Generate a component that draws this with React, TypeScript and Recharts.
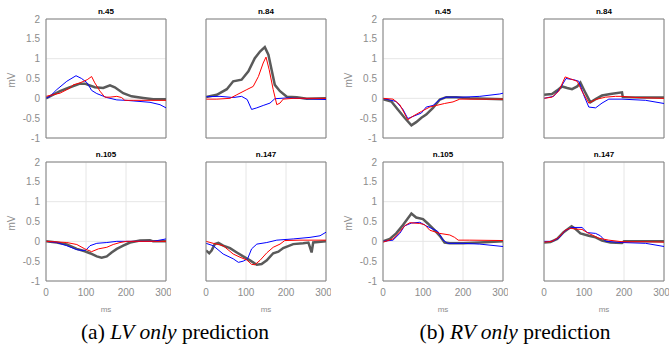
import { CartesianGrid, Line, LineChart, ReferenceLine, XAxis, YAxis } from 'recharts';

type Pt = [number, number];

const msTicks = [0, 100, 200, 300];
const mvTicks = [-1, -0.5, 0, 0.5, 1, 1.5, 2];

// (a) LV only — n.45
const lv45Gray: Pt[] = [[0, 0], [35, 0.18], [60, 0.28], [85, 0.37], [97, 0.37], [122, 0.28], [143, 0.26], [160, 0.33], [172, 0.28], [193, 0.13], [214, 0.05], [243, 0.01], [268, -0.02], [300, -0.02]];
const lv45Blue: Pt[] = [[0, 0], [10, 0.05], [27, 0.22], [52, 0.43], [75, 0.57], [89, 0.5], [103, 0.39], [114, 0.2], [127, 0.12], [152, 0.02], [177, -0.04], [200, -0.05], [260, -0.1], [285, -0.16], [300, -0.24]];
const lv45Red: Pt[] = [[0, 0.05], [35, 0.13], [60, 0.26], [68, 0.34], [85, 0.39], [103, 0.47], [114, 0.55], [122, 0.39], [135, 0.18], [147, 0.03], [160, 0.03], [177, 0.05], [189, 0.02], [197, -0.05], [218, -0.05], [300, -0.05]];

// (a) LV only — n.84
const lv84Gray: Pt[] = [[0, 0.03], [27, 0.09], [52, 0.23], [68, 0.43], [89, 0.47], [106, 0.68], [122, 1.01], [135, 1.18], [147, 1.29], [156, 1.1], [164, 0.72], [172, 0.34], [185, 0.18], [202, 0.04], [227, 0.03], [252, -0.01], [300, 0]];
const lv84Blue: Pt[] = [[0, 0.04], [35, 0.05], [68, 0.02], [89, 0.05], [103, -0.03], [114, -0.28], [127, -0.24], [143, -0.18], [160, -0.12], [172, -0.01], [202, 0.01], [300, -0.03]];
const lv84Red: Pt[] = [[0, -0.02], [27, -0.02], [60, 0], [77, 0.09], [102, 0.22], [118, 0.3], [131, 0.55], [143, 0.89], [150, 1.04], [158, 0.72], [168, 0.22], [177, -0.16], [185, -0.12], [193, -0.02], [218, 0], [300, 0]];

// (a) LV only — n.105
const lv105Gray: Pt[] = [[0, 0], [27, -0.03], [52, -0.08], [77, -0.19], [97, -0.25], [110, -0.3], [127, -0.38], [139, -0.41], [152, -0.38], [164, -0.28], [177, -0.19], [193, -0.11], [210, -0.03], [235, 0.02], [260, 0.03], [268, 0], [300, 0]];
const lv105Blue: Pt[] = [[0, 0], [27, -0.03], [52, -0.11], [77, -0.21], [93, -0.23], [100, -0.22], [110, -0.11], [127, -0.05], [152, -0.03], [177, 0], [235, 0], [268, 0], [300, 0.06]];
const lv105Red: Pt[] = [[0, 0], [52, -0.03], [77, -0.08], [97, -0.19], [114, -0.26], [131, -0.19], [152, -0.15], [168, -0.08], [185, -0.03], [202, 0], [300, 0]];

// (a) LV only — n.147
const lv147Gray: Pt[] = [[0, -0.23], [8, -0.3], [14, -0.23], [22, -0.07], [31, -0.04], [43, -0.11], [60, -0.17], [77, -0.28], [93, -0.38], [110, -0.48], [127, -0.59], [139, -0.57], [152, -0.48], [168, -0.3], [181, -0.26], [193, -0.17], [218, -0.07], [243, -0.05], [256, -0.03], [260, -0.15], [264, -0.28], [268, -0.03], [300, 0]];
const lv147Blue: Pt[] = [[0, -0.05], [18, -0.11], [43, -0.32], [68, -0.44], [81, -0.53], [93, -0.5], [104, -0.44], [114, -0.19], [127, -0.07], [152, -0.03], [177, 0.03], [218, 0.06], [260, 0.1], [285, 0.14], [300, 0.23]];
const lv147Red: Pt[] = [[0, 0], [18, -0.05], [43, -0.11], [68, -0.32], [85, -0.4], [102, -0.47], [114, -0.58], [122, -0.59], [135, -0.48], [152, -0.29], [168, -0.15], [185, -0.07], [197, 0.02], [235, 0.03], [300, 0.03]];

// (b) RV only — n.45
const rv45Gray: Pt[] = [[0, -0.02], [21, -0.08], [37, -0.28], [54, -0.49], [71, -0.68], [83, -0.6], [96, -0.49], [108, -0.41], [125, -0.24], [142, -0.03], [158, 0.03], [183, 0.03], [217, 0], [300, -0.02]];
const rv45Blue: Pt[] = [[0, 0], [33, -0.08], [50, -0.28], [62, -0.51], [79, -0.44], [96, -0.37], [108, -0.22], [125, -0.18], [142, -0.03], [158, 0.03], [200, 0.03], [242, 0.05], [292, 0.11], [300, 0.13]];
const rv45Red: Pt[] = [[0, 0], [25, -0.02], [42, -0.16], [62, -0.54], [75, -0.45], [96, -0.33], [117, -0.22], [133, -0.18], [154, -0.13], [175, -0.09], [192, -0.02], [242, -0.02], [300, -0.02]];

// (b) RV only — n.84
const rv84Gray: Pt[] = [[0, 0.09], [20, 0.11], [33, 0.2], [45, 0.3], [58, 0.26], [70, 0.23], [83, 0.3], [91, 0.4], [104, 0.13], [116, -0.1], [129, -0.02], [145, 0.07], [166, 0.11], [195, 0.15], [197, 0.03], [250, 0.02], [300, 0.02]];
const rv84Blue: Pt[] = [[0, 0], [24, 0.05], [41, 0.26], [55, 0.5], [74, 0.47], [87, 0.43], [99, 0.09], [112, -0.22], [129, -0.24], [145, -0.12], [162, -0.02], [195, -0.02], [254, -0.05], [300, -0.13]];
const rv84Red: Pt[] = [[0, 0], [20, 0.03], [37, 0.18], [53, 0.54], [66, 0.49], [83, 0.43], [95, 0.18], [112, -0.12], [129, -0.03], [154, 0.03], [179, 0.05], [195, 0.05], [229, 0.02], [300, 0]];

// (b) RV only — n.105
const rv105Gray: Pt[] = [[0, 0], [17, 0.06], [33, 0.2], [50, 0.41], [71, 0.7], [83, 0.6], [100, 0.56], [112, 0.45], [129, 0.28], [142, 0.14], [154, -0.03], [167, -0.05], [200, -0.05], [242, -0.03], [300, 0]];
const rv105Blue: Pt[] = [[0, 0], [25, 0.03], [42, 0.2], [54, 0.39], [71, 0.46], [92, 0.48], [108, 0.39], [125, 0.31], [137, 0.25], [150, 0.03], [162, -0.05], [200, -0.05], [242, -0.07], [300, -0.13]];
const rv105Red: Pt[] = [[0, -0.02], [25, 0.06], [42, 0.24], [54, 0.39], [67, 0.47], [92, 0.45], [104, 0.42], [117, 0.28], [142, 0.2], [167, 0.16], [179, 0.1], [188, 0.03], [217, 0.03], [300, 0.02]];

// (b) RV only — n.147
const rv147Gray: Pt[] = [[0, -0.03], [16, -0.02], [33, 0.06], [49, 0.23], [69, 0.38], [79, 0.31], [91, 0.2], [112, 0.14], [129, 0.1], [145, 0.02], [166, -0.03], [195, -0.04], [200, 0], [300, 0]];
const rv147Blue: Pt[] = [[0, 0], [20, 0], [37, 0.08], [53, 0.27], [70, 0.35], [95, 0.35], [108, 0.22], [129, 0.2], [141, 0.14], [154, 0], [195, -0.03], [254, -0.05], [300, -0.13]];
const rv147Red: Pt[] = [[0, -0.02], [20, 0], [37, 0.1], [53, 0.28], [66, 0.33], [79, 0.31], [95, 0.3], [112, 0.2], [137, 0.08], [162, 0.03], [195, -0.01], [254, -0.01], [300, -0.02]];

const rows = (pts: Pt[]) => pts.map(([t, v]) => ({ t, v }));

const AXIS = '#808080';
const LABEL = '#8c8c8c';
const FONT = '"Liberation Sans", Arial, sans-serif';

interface PanelProps {
  left: number;
  top: number;
  title: string;
  gray: Pt[];
  blue: Pt[];
  red: Pt[];
  yLabels: boolean;
  xLabels: boolean;
}

const Panel = ({ left, top, title, gray, blue, red, yLabels, xLabels }: PanelProps) => (
  <div style={{ position: 'absolute', left: left - 40, top: top - 19, width: 165, height: 163 }}>
    <div
      style={{
        position: 'absolute', left: 40, width: 120, top: 7, textAlign: 'center',
        fontFamily: FONT, fontWeight: 'bold', fontSize: 8, lineHeight: '10px', color: '#000',
      }}
    >
      {title}
    </div>
    {yLabels && (
      <div
        style={{
          position: 'absolute', left: -4, top: 74, width: 20, textAlign: 'center',
          transform: 'rotate(-90deg)', fontFamily: FONT, fontSize: 10, lineHeight: '12px', color: LABEL,
        }}
      >
        mV
      </div>
    )}
    {xLabels && (
      <div
        style={{
          position: 'absolute', left: 40, width: 120, top: 162, textAlign: 'center',
          fontFamily: FONT, fontSize: 8, lineHeight: '10px', color: LABEL,
        }}
      >
        ms
      </div>
    )}
    <LineChart width={165} height={163} margin={{ top: 19, right: 5, bottom: 0, left: 0 }}>
      <CartesianGrid stroke="#e6e6e6" />
      <XAxis
        type="number"
        dataKey="t"
        domain={[0, 300]}
        ticks={msTicks}
        allowDataOverflow
        height={25}
        tickLine={false}
        axisLine={{ stroke: AXIS }}
        tick={xLabels ? { fill: LABEL, fontSize: 10, fontFamily: FONT } : false}
      />
      <YAxis
        type="number"
        domain={[-1, 2]}
        ticks={mvTicks}
        allowDataOverflow
        width={40}
        tickLine={false}
        tickSize={4}
        tickMargin={2}
        axisLine={{ stroke: AXIS }}
        tick={yLabels ? { fill: LABEL, fontSize: 10, fontFamily: FONT } : false}
      />
      <ReferenceLine y={2} stroke={AXIS} />
      <ReferenceLine x={300} stroke={AXIS} />
      <Line data={rows(gray)} dataKey="v" stroke="#5a5a5a" strokeWidth={2.5} dot={false} isAnimationActive={false} />
      <Line data={rows(blue)} dataKey="v" stroke="#0000ff" strokeWidth={1} dot={false} isAnimationActive={false} />
      <Line data={rows(red)} dataKey="v" stroke="#ff0000" strokeWidth={1} dot={false} isAnimationActive={false} />
    </LineChart>
  </div>
);

const captionStyle = {
  position: 'absolute' as const,
  top: 319,
  width: 300,
  textAlign: 'center' as const,
  fontFamily: '"Liberation Serif", "Times New Roman", serif',
  fontSize: 21.5,
  lineHeight: '26px',
  color: '#000',
};

export default function App() {
  return (
    <div style={{ position: 'absolute', left: 0, top: 0, width: 669, height: 347, background: '#fff' }}>
      <Panel left={46} top={19} title="n.45" gray={lv45Gray} blue={lv45Blue} red={lv45Red} yLabels xLabels={false} />
      <Panel left={206} top={19} title="n.84" gray={lv84Gray} blue={lv84Blue} red={lv84Red} yLabels={false} xLabels={false} />
      <Panel left={383} top={19} title="n.45" gray={rv45Gray} blue={rv45Blue} red={rv45Red} yLabels xLabels={false} />
      <Panel left={544} top={19} title="n.84" gray={rv84Gray} blue={rv84Blue} red={rv84Red} yLabels={false} xLabels={false} />
      <Panel left={46} top={162} title="n.105" gray={lv105Gray} blue={lv105Blue} red={lv105Red} yLabels xLabels />
      <Panel left={206} top={162} title="n.147" gray={lv147Gray} blue={lv147Blue} red={lv147Red} yLabels={false} xLabels />
      <Panel left={383} top={162} title="n.105" gray={rv105Gray} blue={rv105Blue} red={rv105Red} yLabels xLabels />
      <Panel left={544} top={162} title="n.147" gray={rv147Gray} blue={rv147Blue} red={rv147Red} yLabels={false} xLabels />
      <div style={{ ...captionStyle, left: 25 }}>
        (a) <i>LV only</i> prediction
      </div>
      <div style={{ ...captionStyle, left: 365 }}>
        (b) <i>RV only</i> prediction
      </div>
    </div>
  );
}
